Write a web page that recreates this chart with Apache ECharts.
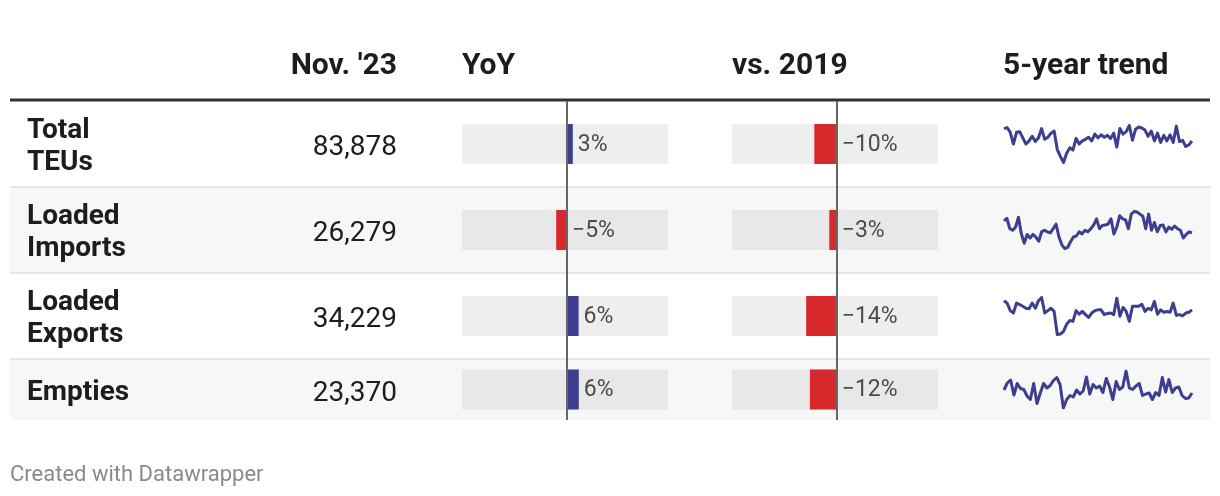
<!DOCTYPE html>
<html><head><meta charset="utf-8">
<script src="https://cdn.jsdelivr.net/npm/echarts@6/dist/echarts.min.js"></script>
<style>html,body{margin:0;padding:0;background:#fff}#c{width:1220px;height:496px}</style>
</head><body><div id="c"></div>
<script>
// ---------- DATA ----------
const headers = ["Nov. '23", "YoY", "vs. 2019", "5-year trend"];
const rowLabels = [["Total", "TEUs"], ["Loaded", "Imports"], ["Loaded", "Exports"], ["Empties"]];
const novValues = [83878, 26279, 34229, 23370];
const yoyPct = [2.9, -5.4, 5.8, 5.9];
const vs2019Pct = [-10.2, -3.4, -13.9, -12.2];
// monthly volumes, thousand TEUs (read from sparklines)
const trendTotal = [94.0,94.8,91.0,81.5,91.0,91.5,86.5,81.5,84.0,87.8,83.5,86.5,94.0,85.3,87.0,90.3,92.0,77.0,71.5,66.5,74.0,78.5,76.5,86.0,81.5,84.0,85.3,87.0,84.0,89.5,86.5,89.0,87.0,88.5,86.0,90.3,79.0,94.0,89.5,91.5,96.5,84.5,93.5,95.3,94.5,92.8,87.8,92.0,84.0,90.3,82.8,88.5,84.0,89.0,82.8,96.0,83.5,84.5,79.5,80.8,83.9];
const trendImports = [28.6,29.1,27.1,26.8,27.4,29.3,26.1,24.3,26.0,25.3,26.0,25.5,24.7,26.5,26.8,26.5,26.3,27.1,28.0,25.5,24.0,23.3,23.5,24.6,25.5,25.7,26.5,26.1,26.8,26.5,27.1,27.8,29.0,27.1,27.7,27.8,28.0,29.0,26.1,27.4,29.6,29.0,28.8,27.1,29.9,30.4,30.3,29.9,29.5,27.1,29.9,26.8,28.3,26.5,27.7,27.8,26.5,27.4,27.0,27.6,27.1,26.8,25.3,26.0,26.5,26.3];
const trendExports = [36.5,35.9,34.0,33.4,35.9,35.5,35.1,34.6,34.5,35.9,34.6,36.5,37.3,33.4,34.0,34.6,33.8,28.0,28.1,28.8,30.6,31.5,31.3,34.0,33.1,33.8,33.0,32.3,33.4,34.0,34.2,34.2,33.0,33.3,33.4,33.0,37.1,32.6,34.8,33.8,31.3,35.1,35.1,35.1,35.6,33.8,34.6,34.2,36.3,33.1,34.2,33.6,33.8,33.6,35.9,32.8,33.0,32.7,33.4,33.6,34.2];
const trendEmpties = [24.0,25.4,26.0,23.0,25.3,24.3,24.1,22.8,22.1,25.3,21.3,23.4,25.3,24.4,24.9,25.9,26.5,25.1,20.4,22.1,22.9,22.6,24.0,23.2,23.8,26.6,23.2,25.1,24.4,24.8,23.5,26.3,24.6,22.1,25.7,24.1,24.6,27.8,24.4,24.1,24.8,25.3,22.9,23.2,23.4,22.1,23.5,22.9,26.5,23.6,26.1,23.5,24.4,24.6,22.9,22.3,22.4,23.4];
const trends = [trendTotal, trendImports, trendExports, trendEmpties];

// ---------- LAYOUT / STYLE ----------
const FONT = 'Roboto, "Noto Sans", sans-serif';
const TXT = '#1d1d1d';
const BLUE = '#3d3e90';
const RED = '#d7282b';
const L = {
  labelX: 27, valueRight: 397,
  yoyLeft: 462, vsLeft: 732, boxW: 206, boxH: 40,
  sparkLeft: 1004, sparkW: 188, sparkH: 37,
  headerY: 66, ruleY: 100, firstTop: 101, lineH: 32, tableBottom: 420, textShift: 3
};
const yoyRange = [-52.5, 50.5];
const vsRange = [-47.6, 46.0];

const rows = [];
let rowY = L.firstTop;
rowLabels.forEach((lab, i) => {
  const h = Math.max(lab.length * L.lineH + 22, 61);
  rows.push({ top: rowY, h, c: rowY + h / 2, shade: i % 2 === 1 });
  rowY += h;
});

function fmtPct(v) {
  const r = Math.round(v);
  return (r < 0 ? '\u2212' : '') + Math.abs(r) + '%';
}

const grid = [], xAxis = [], yAxis = [], series = [], graphic = [];
function addGrid(g, xa, ya) {
  grid.push(g);
  const gi = grid.length - 1;
  xAxis.push(Object.assign({ gridIndex: gi, show: false }, xa));
  yAxis.push(Object.assign({ gridIndex: gi, show: false }, ya));
  return gi;
}

// row backgrounds and separators
rows.forEach((r, i) => {
  if (r.shade) graphic.push({ type: 'rect', z: -10, shape: { x: 10, y: r.top, width: 1200, height: r.h }, style: { fill: '#f7f7f7' } });
  if (i < rows.length - 1) graphic.push({ type: 'rect', z: -5, shape: { x: 10, y: r.top + r.h - 1, width: 1200, height: 2 }, style: { fill: '#e6e6e6' } });
});
// header rule
graphic.push({ type: 'rect', z: 5, shape: { x: 10, y: L.ruleY - 1.5, width: 1200, height: 3 }, style: { fill: '#333' } });

// headers
const headerPos = [
  { x: L.valueRight, align: 'right' }, { x: L.yoyLeft, align: 'left' },
  { x: L.vsLeft, align: 'left' }, { x: L.sparkLeft - 1, align: 'left' }
];
headers.forEach((h, i) => graphic.push({ type: 'text', z: 10, style: {
  text: h, x: headerPos[i].x, y: L.headerY, align: headerPos[i].align, verticalAlign: 'middle',
  font: 'bold 30px ' + FONT, fill: TXT } }));

// row labels & values
rows.forEach((r, i) => {
  graphic.push({ type: 'text', z: 10, style: { text: rowLabels[i].join('\n'), x: L.labelX, y: r.c + L.textShift, verticalAlign: 'middle',
    lineHeight: L.lineH, font: 'bold 28px ' + FONT, fill: TXT } });
  graphic.push({ type: 'text', z: 10, style: { text: novValues[i].toLocaleString('en-US'), x: L.valueRight, y: r.c + L.textShift + 1,
    align: 'right', verticalAlign: 'middle', font: '28px ' + FONT, fill: TXT } });
});

// bar cells
function barCell(left, r, v, range) {
  const gi = addGrid({ left, top: r.c - L.boxH / 2, width: L.boxW, height: L.boxH, show: true,
      backgroundColor: r.shade ? '#e8e8e8' : '#eeeeee', borderWidth: 0 },
    { type: 'value', min: range[0], max: range[1] }, { type: 'category', data: [''] });
  series.push({ type: 'bar', xAxisIndex: gi, yAxisIndex: gi, barWidth: L.boxH, silent: true,
    data: [{ value: v, itemStyle: { color: v >= 0 ? BLUE : RED } }] });
  series.push({ type: 'scatter', xAxisIndex: gi, yAxisIndex: gi, symbolSize: 0, silent: true, z: 20,
    data: [[Math.max(v, 0), 0]],
    label: { show: true, position: 'right', distance: 5, offset: [0, 1], formatter: fmtPct(v), fontFamily: FONT, fontSize: 23, color: '#222' } });
}
rows.forEach((r, i) => {
  barCell(L.yoyLeft, r, yoyPct[i], yoyRange);
  barCell(L.vsLeft, r, vs2019Pct[i], vsRange);
});

// zero lines spanning full table
[[L.yoyLeft, yoyRange], [L.vsLeft, vsRange]].forEach(([left, range]) => {
  const gi = addGrid({ left, top: L.firstTop, width: L.boxW, height: L.tableBottom - L.firstTop },
    { type: 'value', min: range[0], max: range[1] }, { type: 'value', min: 0, max: 1 });
  series.push({ type: 'scatter', xAxisIndex: gi, yAxisIndex: gi, symbolSize: 0, silent: true, z: 30, data: [[0, 0.5]],
    markLine: { symbol: 'none', silent: true, label: { show: false }, lineStyle: { color: '#666', width: 2, type: 'solid' },
      data: [{ xAxis: 0 }] } });
});

// sparklines
rows.forEach((r, i) => {
  const d = trends[i];
  const gi = addGrid({ left: L.sparkLeft, top: r.c - L.sparkH / 2, width: L.sparkW, height: L.sparkH },
    { type: 'category', boundaryGap: false, data: d.map((_, k) => k) }, { type: 'value', min: 'dataMin', max: 'dataMax' });
  series.push({ type: 'line', xAxisIndex: gi, yAxisIndex: gi, data: d, symbol: 'none', silent: true,
    lineStyle: { color: BLUE, width: 3, join: 'round' } });
});

// footer
graphic.push({ type: 'text', z: 10, style: { text: 'Created with Datawrapper', x: 10, y: 475, verticalAlign: 'middle',
  font: '22px ' + FONT, fill: '#8a8a8a' } });

const chart = echarts.init(document.getElementById('c'), null, { renderer: 'canvas' });
chart.setOption({ backgroundColor: '#fff', animation: false, grid, xAxis, yAxis, series, graphic, tooltip: { show: false } });
</script></body></html>
